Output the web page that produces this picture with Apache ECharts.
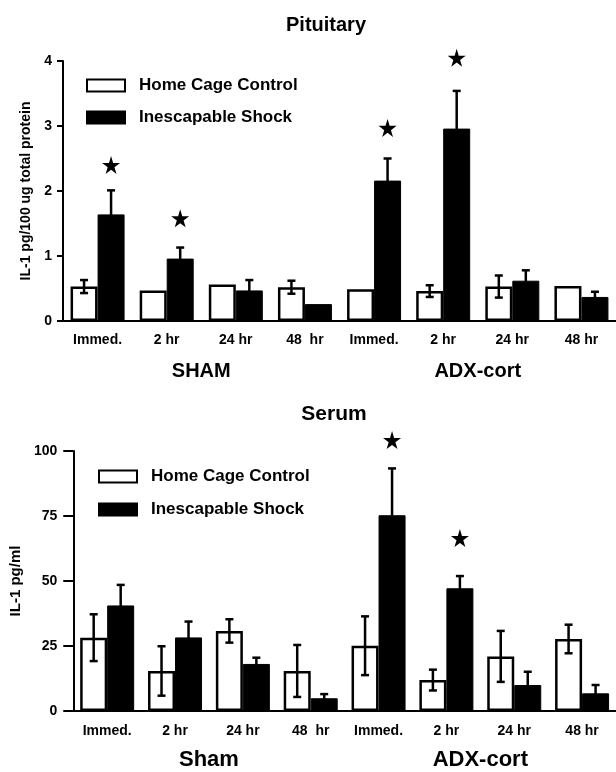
<!DOCTYPE html>
<html>
<head>
<meta charset="utf-8">
<script src="https://cdn.jsdelivr.net/npm/echarts@6/dist/echarts.min.js"></script>
<style>
  html, body { margin: 0; padding: 0; background: #fff; }
  #chart { width: 616px; height: 772px; }
</style>
</head>
<body>
<div id="chart"></div>
<script>
// time points, two groups of four
var categories = ['Immed.', '2 hr', '24 hr', '48  hr', 'Immed.', '2 hr', '24 hr', '48 hr'];
var pitGroups = ['SHAM', 'ADX-cort'];
var serGroups = ['Sham', 'ADX-cort'];
var seriesNames = ['Home Cage Control', 'Inescapable Shock'];

// Pituitary, IL-1 pg/100 ug total protein
var pitControl    = [0.53, 0.47, 0.56, 0.52, 0.49, 0.46, 0.53, 0.54];
var pitControlErr = [0.10, 0,    0,    0.10, 0,    0.09, 0.17, 0];
var pitShock      = [1.64, 0.96, 0.47, 0.26, 2.16, 2.96, 0.62, 0.37];
var pitShockErr   = [0.37, 0.17, 0.16, 0,    0.34, 0.58, 0.16, 0.08];
var pitStars      = [2.40, 1.58, null, null, 2.97, 4.05, null, null];
var pitTicks = [0, 1, 2, 3, 4];

// Serum, IL-1 pg/ml
var serControl    = [28.2, 15.4, 30.8, 15.4, 25.1, 11.9, 21.0, 27.7];
var serControlErr = [9.0,  9.5,  4.5,  10.0, 11.3, 4.0,  9.8,  5.5];
var serShock      = [40.6, 28.3, 18.1, 4.9,  75.3, 47.2, 10.0, 6.8];
var serShockErr   = [7.9,  6.1,  2.4,  1.6,  18.0, 4.7,  5.1,  3.2];
var serStars      = [null, null, null, null, 104.2, 66.5, null, null];
var serTicks = [0, 25, 50, 75, 100];

var FONT = '"Liberation Sans", Arial, Helvetica, sans-serif';
var HALF = 13.5; // half bar width, bars sit side by side

var starPath = 'path://M50,0 L61,35 L98,35 L68,57 L79,91 L50,70 L21,91 L32,57 L2,35 L39,35 Z';

function errData(vals, errs){
	var out = [];
	for (var i = 0; i < vals.length; i++) out.push([i, vals[i], errs[i]]);
	return out;
}
function starData(stars){
	var out = [];
	for (var i = 0; i < stars.length; i++) if (stars[i] != null) out.push([i, stars[i]]);
	return out;
}

function errorSeries(gi, vals, errs, dx){
	return {
		type: 'custom',
		xAxisIndex: gi * 2, yAxisIndex: gi,
		data: errData(vals, errs),
		z: 5,
		clip: false,
		renderItem: function(params, api){
			var e = api.value(2);
			if (!e) return;
			var v = api.value(1);
			var top = api.coord([api.value(0), v + e]);
			var bot = api.coord([api.value(0), v - e]);
			var x = top[0] + dx;
			var style = { stroke: '#000', lineWidth: 2.5 };
			return {
				type: 'group',
				children: [
					{ type: 'line', shape: { x1: x, y1: top[1], x2: x, y2: bot[1] }, style: style },
					{ type: 'line', shape: { x1: x - 4, y1: top[1], x2: x + 4, y2: top[1] }, style: style },
					{ type: 'line', shape: { x1: x - 4, y1: bot[1], x2: x + 4, y2: bot[1] }, style: style }
				]
			};
		}
	};
}

function barSeries(gi, name, vals, filled){
	return {
		name: name,
		type: 'bar',
		xAxisIndex: gi * 2, yAxisIndex: gi,
		data: vals,
		barWidth: 27,
		barGap: '0%',
		itemStyle: filled
			? { color: '#000', borderColor: '#000', borderWidth: 1 }
			: { color: '#fff', borderColor: '#000', borderWidth: 2.5 }
	};
}

function starSeries(gi, stars){
	return {
		type: 'scatter',
		xAxisIndex: gi * 2, yAxisIndex: gi,
		data: starData(stars),
		symbol: starPath,
		symbolSize: 18,
		symbolOffset: [HALF, 0],
		clip: false,
		itemStyle: { color: '#000', opacity: 1 },
		silent: true
	};
}

function catAxis(gi, margin){
	return {
		type: 'category', gridIndex: gi, data: categories, position: 'bottom',
		axisLine: { lineStyle: { color: '#000', width: 2 } },
		axisTick: { alignWithLabel: true, length: 6, lineStyle: { color: '#000', width: 2 } },
		axisLabel: { color: '#000', fontFamily: FONT, fontWeight: 'bold', fontSize: 14, margin: margin }
	};
}
function groupAxis(gi, groups, size, margin){
	return {
		type: 'category', gridIndex: gi, data: groups, position: 'bottom',
		axisLine: { show: false }, axisTick: { show: false },
		axisLabel: { color: '#000', fontFamily: FONT, fontWeight: 'bold', fontSize: size, margin: margin }
	};
}
function valAxis(gi, ticks, name, gap, tickLen, labMargin, nameSize){
	return {
		type: 'value', gridIndex: gi,
		min: ticks[0], max: ticks[ticks.length - 1], interval: ticks[1] - ticks[0],
		name: name, nameLocation: 'middle', nameRotate: 90, nameGap: gap,
		nameTextStyle: { color: '#000', fontFamily: FONT, fontWeight: 'bold', fontSize: nameSize },
		splitLine: { show: false },
		axisLine: { show: true, lineStyle: { color: '#000', width: 2 } },
		axisTick: { show: true, length: tickLen, lineStyle: { color: '#000', width: 2 } },
		axisLabel: { color: '#000', fontFamily: FONT, fontWeight: 'bold', fontSize: 14, margin: labMargin }
	};
}
function legendAt(left, top, gap){
	return {
		data: seriesNames, orient: 'vertical', left: left, top: top, padding: 0,
		icon: 'rect',
		itemWidth: 38, itemHeight: 12, itemGap: gap,
		textStyle: { color: '#000', fontFamily: FONT, fontWeight: 'bold', fontSize: 17, lineHeight: 17, padding: [0, 0, 0, 9] },
		selectedMode: false
	};
}

var chart = echarts.init(document.getElementById('chart'), null, { renderer: 'canvas' });

var option = {
	backgroundColor: '#fff',
	animation: false,
	graphic: [
		{ type: 'text', x: 326, y: 25, style: { text: 'Pituitary', fill: '#000', font: 'bold 20px ' + FONT, textAlign: 'center', textVerticalAlign: 'middle' } },
		{ type: 'text', x: 334, y: 414, style: { text: 'Serum', fill: '#000', font: 'bold 21px ' + FONT, textAlign: 'center', textVerticalAlign: 'middle' } }
	],
	legend: [ legendAt(86, 77, 15), legendAt(98, 468, 16) ],
	grid: [
		{ left: 63, right: 0, top: 61, bottom: 451 },
		{ left: 73, right: -10, top: 451, bottom: 61 }
	],
	xAxis: [
		catAxis(0, 12), groupAxis(0, pitGroups, 20, 40),
		catAxis(1, 13), groupAxis(1, serGroups, 22, 38)
	],
	yAxis: [
		valAxis(0, pitTicks, 'IL-1 pg/100 ug total protein', 29, 6, 11, 14),
		valAxis(1, serTicks, 'IL-1 pg/ml', 44, 10, 16, 15)
	],
	series: [
		barSeries(0, seriesNames[0], pitControl, false),
		barSeries(0, seriesNames[1], pitShock, true),
		errorSeries(0, pitControl, pitControlErr, -HALF),
		errorSeries(0, pitShock, pitShockErr, HALF),
		starSeries(0, pitStars),
		barSeries(1, seriesNames[0], serControl, false),
		barSeries(1, seriesNames[1], serShock, true),
		errorSeries(1, serControl, serControlErr, -HALF),
		errorSeries(1, serShock, serShockErr, HALF),
		starSeries(1, serStars)
	]
};

chart.setOption(option);
</script>
</body>
</html>
